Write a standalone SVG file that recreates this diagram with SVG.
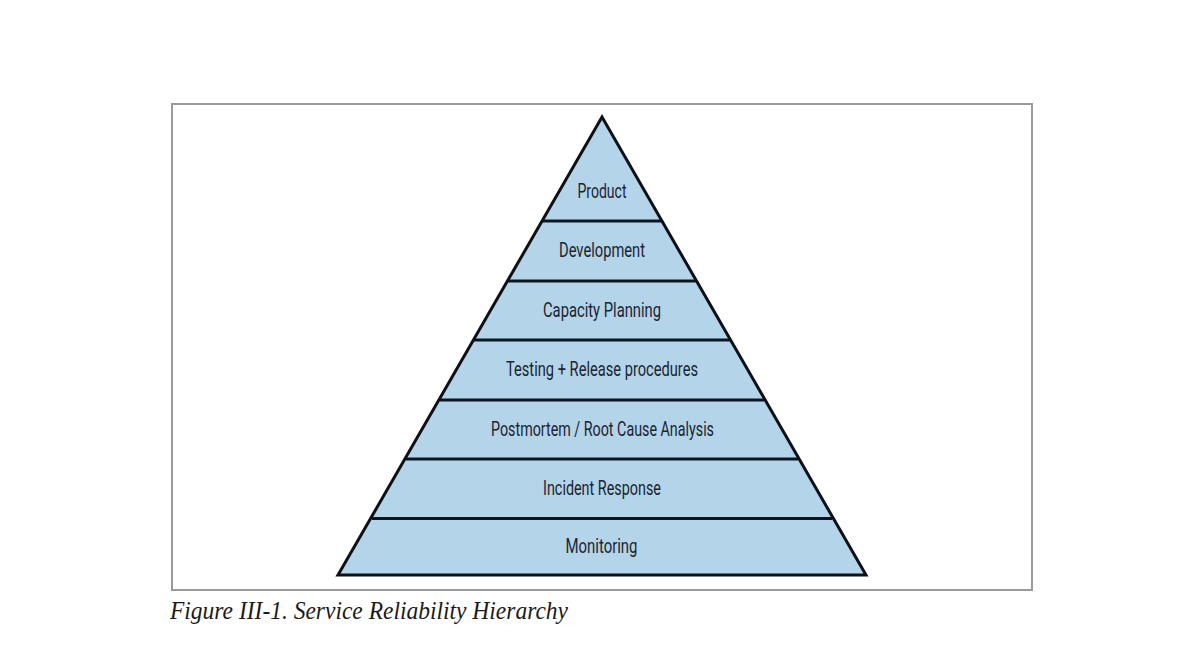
<svg xmlns="http://www.w3.org/2000/svg" width="1200" height="647" viewBox="0 0 1200 647">
  <style>
    .frame { fill: #ffffff; stroke: #9a9a9a; stroke-width: 2; }
    .tier { fill: #b4d4ea; stroke: none; }
    .edge { fill: none; stroke: #0d1117; stroke-width: 3; stroke-linejoin: miter; }
    .sep { stroke: #0d1620; stroke-width: 3; }
    .lbl { font-family: "Roboto", "Liberation Sans", sans-serif; font-size: 21px; fill: #1b2430; text-anchor: middle; }
    .cap { font-family: "Liberation Serif", serif; font-style: italic; font-size: 25px; fill: #1a1a1a; }
  </style>
  <rect width="1200" height="647" fill="#ffffff"/>
  <rect class="frame" x="172" y="104" width="860" height="486"/>

  <g id="pyramid-fill">
    <polygon class="tier" points="602,117 866,575 338,575"/>
  </g>

  <g id="separators">
    <line class="sep" x1="542" y1="221" x2="662" y2="221"/>
    <line class="sep" x1="508" y1="281" x2="696" y2="281"/>
    <line class="sep" x1="474" y1="340" x2="730" y2="340"/>
    <line class="sep" x1="440" y1="400" x2="764" y2="400"/>
    <line class="sep" x1="406" y1="459" x2="798" y2="459"/>
    <line class="sep" x1="372" y1="518.5" x2="832" y2="518.5"/>
  </g>

  <g id="pyramid-outline">
    <polygon class="edge" points="602,117 866,575 338,575"/>
  </g>

  <g id="product"><text class="lbl" x="602" y="198" textLength="49" lengthAdjust="spacingAndGlyphs">Product</text></g>
  <g id="development"><text class="lbl" x="602" y="257" textLength="86" lengthAdjust="spacingAndGlyphs">Development</text></g>
  <g id="capacity-planning"><text class="lbl" x="602" y="317" textLength="118" lengthAdjust="spacingAndGlyphs">Capacity Planning</text></g>
  <g id="testing-release"><text class="lbl" x="602" y="376" textLength="192" lengthAdjust="spacingAndGlyphs">Testing + Release procedures</text></g>
  <g id="postmortem"><text class="lbl" x="602.5" y="436" textLength="223" lengthAdjust="spacingAndGlyphs">Postmortem / Root Cause Analysis</text></g>
  <g id="incident-response"><text class="lbl" x="602" y="495" textLength="118" lengthAdjust="spacingAndGlyphs">Incident Response</text></g>
  <g id="monitoring"><text class="lbl" x="601.5" y="553" textLength="72" lengthAdjust="spacingAndGlyphs">Monitoring</text></g>

  <text class="cap" x="170" y="619" textLength="398" lengthAdjust="spacingAndGlyphs">Figure III-1. Service Reliability Hierarchy</text>
</svg>
